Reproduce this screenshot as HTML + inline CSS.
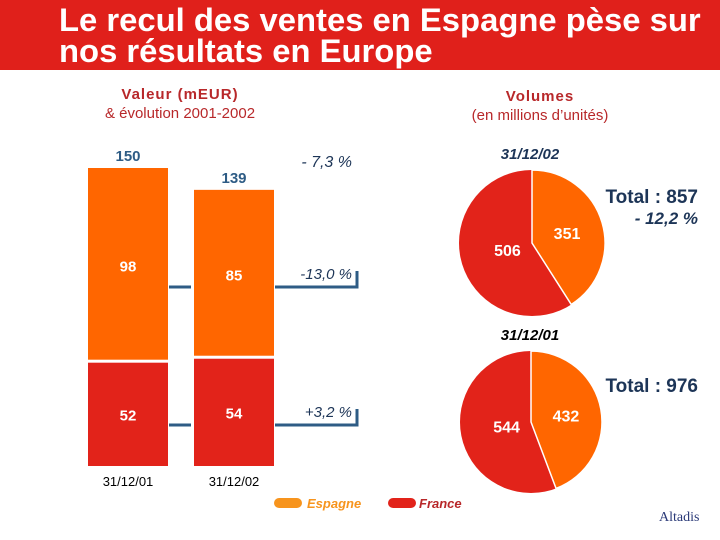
<!DOCTYPE html>
<html><head><meta charset="utf-8"><style>
body{margin:0;width:720px;height:540px;overflow:hidden;background:#fff;font-family:"Liberation Sans",sans-serif;position:relative}
.abs{position:absolute}
</style></head><body>
<div class="abs" style="left:0;top:0;width:720px;height:70px;background:#e0201b"></div>
<div class="abs" style="left:59px;top:4px;color:#fff;font-size:32.8px;font-weight:bold;line-height:31px;white-space:nowrap">Le recul des ventes en Espagne pèse sur<br>nos résultats en Europe</div>
<div class="abs" style="left:60px;top:85px;width:240px;text-align:center;color:#b8282a;font-size:15px;line-height:19px"><b style="letter-spacing:1px">Valeur (mEUR)</b><br>&amp; évolution 2001-2002</div>
<div class="abs" style="left:440px;top:87px;width:200px;text-align:center;color:#b8282a;font-size:15px;line-height:19px"><b style="letter-spacing:1px">Volumes</b><br>(en millions d’unités)</div>
<svg class="abs" style="left:0;top:0" width="720" height="540" id="chart"></svg>
<div class="abs" style="left:659px;top:510px;color:#2b3a78;font-family:'Liberation Serif',serif;font-size:14px">Altadis</div>
<script>
const categories=["31/12/01","31/12/02"];
const espagne=[98,85];
const france=[52,54];
const totals=[150,139];
const pieDates=["31/12/02","31/12/01"];
const pieFrance=[506,544];
const pieEspagne=[351,432];
const pieTotals=["Total : 857","Total : 976"];
const svg=document.getElementById('chart');
const NS='http://www.w3.org/2000/svg';
function mk(t,a,txt){const e=document.createElementNS(NS,t);for(const k in a)e.setAttribute(k,a[k]);if(txt!==undefined)e.textContent=txt;svg.appendChild(e);return e;}
const base=466,scale=298/150,barX=[88,194],barW=80;
const y=v=>base-v*scale;
for(let i=0;i<2;i++){
 const yf=y(france[i]),yt=y(france[i]+espagne[i]);
 let r=mk('rect',{x:barX[i],y:yf,width:barW,height:base-yf,fill:'#e2231a'});
 
 r=mk('rect',{x:barX[i],y:yt,width:barW,height:yf-yt-3,fill:'#ff6600'});
 
 let t=mk('text',{x:barX[i]+40,y:(yt+yf)/2+6,'text-anchor':'middle',fill:'#fff','font-size':15,'font-weight':'bold'},espagne[i]);
 
 t=mk('text',{x:barX[i]+40,y:(yf+base)/2+6,'text-anchor':'middle',fill:'#fff','font-size':15,'font-weight':'bold'},france[i]);
 
 t=mk('text',{x:barX[i]+40,y:yt-7,'text-anchor':'middle',fill:'#2e5c85','font-size':15,'font-weight':'bold'},totals[i]);
 
 t=mk('text',{x:barX[i]+40,y:486,'text-anchor':'middle',fill:'#000','font-size':13},categories[i]);
 
}
const growth=['-13,0 %','+3,2 %'];
growth.forEach((g,i)=>{
 const ly=i===0?287:425;
 let p=mk('path',{d:`M169 ${ly}H191M275 ${ly}H357V${ly-16}`,stroke:'#2e5c85','stroke-width':3,fill:'none'});
 
 let t=mk('text',{x:352,y:ly-8,'text-anchor':'end',fill:'#1d3557','font-size':15,'font-style':'italic'},g);
 
});
let tt=mk('text',{x:352,y:167,'text-anchor':'end',fill:'#1d3557','font-size':16,'font-style':'italic'},'- 7,3 %');

const pc=[[532,243,73],[531,422,71]];
for(let i=0;i<2;i++){
 const [cx,cy,r]=pc[i];const tot=pieFrance[i]+pieEspagne[i];
 const a=2*Math.PI*pieEspagne[i]/tot;
 const ex=cx+r*Math.sin(a),ey=cy-r*Math.cos(a);
 let c=mk('circle',{cx,cy,r,fill:'#e2231a'});
 let p=mk('path',{d:`M${cx} ${cy}L${cx} ${cy-r}A${r} ${r} 0 ${a>Math.PI?1:0} 1 ${ex} ${ey}Z`,fill:'#ff6600',stroke:'#fff','stroke-width':1.5});
 
 const ma=a/2,mb=a+(2*Math.PI-a)/2;
 let t=mk('text',{x:cx+r*0.5*Math.sin(ma),y:cy-r*0.5*Math.cos(ma)+6,'text-anchor':'middle',fill:'#fff','font-size':16,'font-weight':'bold'},pieEspagne[i]);
 
 t=mk('text',{x:cx+r*0.35*Math.sin(mb),y:cy-r*0.35*Math.cos(mb)+6,'text-anchor':'middle',fill:'#fff','font-size':16,'font-weight':'bold'},pieFrance[i]);
 
 t=mk('text',{x:530,y:cy-r-11,'text-anchor':'middle',fill:i?'#000':'#1d3557','font-size':15,'font-style':'italic','font-weight':'bold'},pieDates[i]);
 
 t=mk('text',{x:698,y:i?392:203,'text-anchor':'end',fill:'#1d3557','font-size':19,'font-weight':'bold'},pieTotals[i]);
 
}
tt=mk('text',{x:698,y:224,'text-anchor':'end',fill:'#1d3557','font-size':17,'font-style':'italic','font-weight':'bold'},'- 12,2 %');

let lg=mk('rect',{x:274,y:498,width:28,height:10,rx:5,fill:'#f7941d'});
lg=mk('text',{x:307,y:508,fill:'#f7941d','font-size':13,'font-style':'italic','font-weight':'bold'},'Espagne');
lg=mk('rect',{x:388,y:498,width:28,height:10,rx:5,fill:'#e2231a'});
lg=mk('text',{x:419,y:508,fill:'#b8282a','font-size':13,'font-style':'italic','font-weight':'bold'},'France');
</script>
</body></html>
